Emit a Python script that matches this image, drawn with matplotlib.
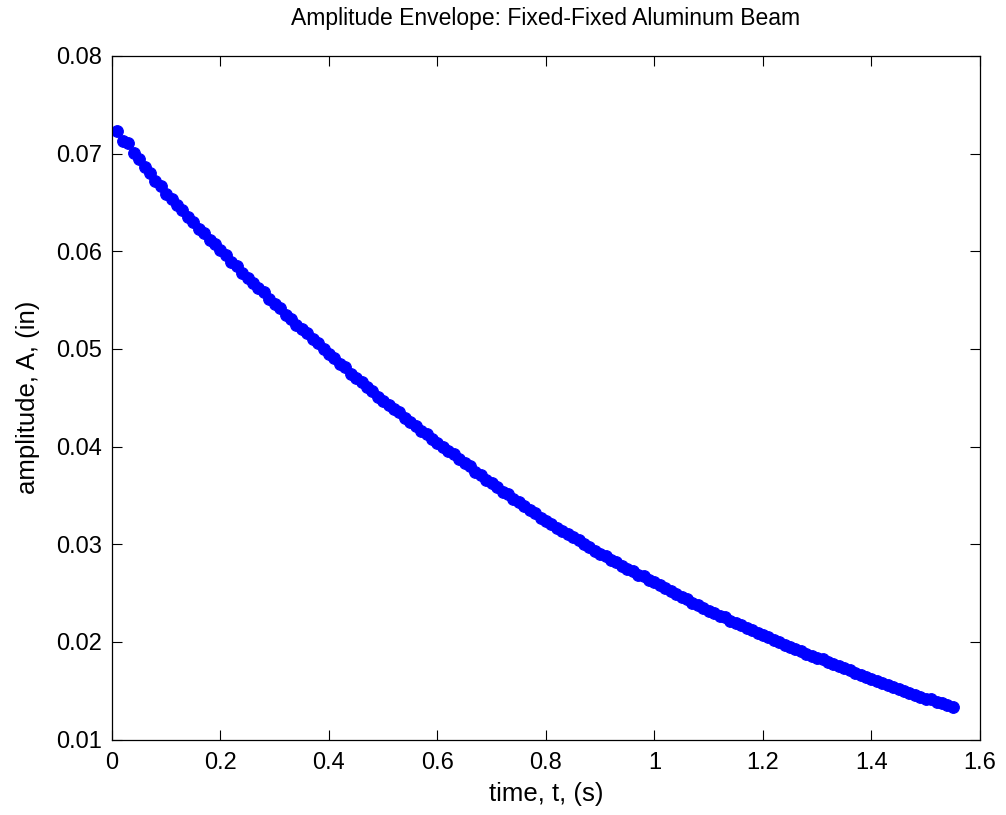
import matplotlib
matplotlib.use("Agg")
import matplotlib.pyplot as plt

# time of each envelope peak (s)
time_s = [
    0.01, 0.02, 0.03, 0.04, 0.05, 0.06, 0.07, 0.08, 0.09, 0.10,
    0.11, 0.12, 0.13, 0.14, 0.15, 0.16, 0.17, 0.18, 0.19, 0.20,
    0.21, 0.22, 0.23, 0.24, 0.25, 0.26, 0.27, 0.28, 0.29, 0.30,
    0.31, 0.32, 0.33, 0.34, 0.35, 0.36, 0.37, 0.38, 0.39, 0.40,
    0.41, 0.42, 0.43, 0.44, 0.45, 0.46, 0.47, 0.48, 0.49, 0.50,
    0.51, 0.52, 0.53, 0.54, 0.55, 0.56, 0.57, 0.58, 0.59, 0.60,
    0.61, 0.62, 0.63, 0.64, 0.65, 0.66, 0.67, 0.68, 0.69, 0.70,
    0.71, 0.72, 0.73, 0.74, 0.75, 0.76, 0.77, 0.78, 0.79, 0.80,
    0.81, 0.82, 0.83, 0.84, 0.85, 0.86, 0.87, 0.88, 0.89, 0.90,
    0.91, 0.92, 0.93, 0.94, 0.95, 0.96, 0.97, 0.98, 0.99, 1.00,
    1.01, 1.02, 1.03, 1.04, 1.05, 1.06, 1.07, 1.08, 1.09, 1.10,
    1.11, 1.12, 1.13, 1.14, 1.15, 1.16, 1.17, 1.18, 1.19, 1.20,
    1.21, 1.22, 1.23, 1.24, 1.25, 1.26, 1.27, 1.28, 1.29, 1.30,
    1.31, 1.32, 1.33, 1.34, 1.35, 1.36, 1.37, 1.38, 1.39, 1.40,
    1.41, 1.42, 1.43, 1.44, 1.45, 1.46, 1.47, 1.48, 1.49, 1.50,
    1.51, 1.52, 1.53, 1.54, 1.55,
]

# amplitude at each peak (in)
amplitude_in = [
    0.0723, 0.0713, 0.0711, 0.0701, 0.0694, 0.0686, 0.0680, 0.0672, 0.0667, 0.0659,
    0.0654, 0.0647, 0.0642, 0.0635, 0.0630, 0.0623, 0.0619, 0.0612, 0.0607, 0.0601,
    0.0596, 0.0589, 0.0585, 0.0578, 0.0573, 0.0568, 0.0562, 0.0558, 0.0551, 0.0546,
    0.0542, 0.0535, 0.0531, 0.0525, 0.0520, 0.0516, 0.0510, 0.0506, 0.0500, 0.0495,
    0.0491, 0.0485, 0.0481, 0.0474, 0.0470, 0.0466, 0.0461, 0.0457, 0.0451, 0.0447,
    0.0443, 0.0438, 0.0435, 0.0429, 0.0425, 0.0421, 0.0416, 0.0413, 0.0408, 0.0404,
    0.0400, 0.0395, 0.0392, 0.0387, 0.0383, 0.0380, 0.0374, 0.0371, 0.0366, 0.0363,
    0.0359, 0.0354, 0.0351, 0.0346, 0.0343, 0.0339, 0.0335, 0.0332, 0.0327, 0.0324,
    0.0321, 0.0317, 0.0314, 0.0310, 0.0307, 0.0304, 0.0300, 0.0297, 0.0293, 0.0290,
    0.0288, 0.0284, 0.0282, 0.0278, 0.0275, 0.0273, 0.0269, 0.0267, 0.0263, 0.0261,
    0.0258, 0.0255, 0.0252, 0.0249, 0.0246, 0.0244, 0.0240, 0.0238, 0.0235, 0.0232,
    0.0230, 0.0227, 0.0225, 0.0221, 0.0219, 0.0217, 0.0214, 0.0212, 0.0209, 0.0207,
    0.0205, 0.0202, 0.0200, 0.0197, 0.0195, 0.0193, 0.0191, 0.0188, 0.0186, 0.0184,
    0.0182, 0.0179, 0.0177, 0.0175, 0.0173, 0.0171, 0.0168, 0.0166, 0.0164, 0.0162,
    0.0160, 0.0158, 0.0156, 0.0154, 0.0152, 0.0150, 0.0148, 0.0146, 0.0144, 0.0142,
    0.0141, 0.0138, 0.0137, 0.0135, 0.0133,
]

x_ticks = [0, 0.2, 0.4, 0.6, 0.8, 1.0, 1.2, 1.4, 1.6]
x_labels = ["0", "0.2", "0.4", "0.6", "0.8", "1", "1.2", "1.4", "1.6"]
y_ticks = [0.01, 0.02, 0.03, 0.04, 0.05, 0.06, 0.07, 0.08]
y_labels = ["0.01", "0.02", "0.03", "0.04", "0.05", "0.06", "0.07", "0.08"]

plt.rcParams["font.family"] = ["Liberation Sans", "DejaVu Sans"]

fig = plt.figure(figsize=(10.06, 8.15), dpi=100)
ax = fig.add_axes([0.1113, 0.0926, 0.8628, 0.8387])

ax.plot(time_s, amplitude_in, linestyle="none", marker="o",
        markersize=8.4, markerfacecolor="#0000ff", markeredgecolor="#0000ff",
        markeredgewidth=0.8)

ax.set_xlim(0, 1.6)
ax.set_ylim(0.01, 0.08)
ax.set_xticks(x_ticks)
ax.set_xticklabels(x_labels)
ax.set_yticks(y_ticks)
ax.set_yticklabels(y_labels)

ax.tick_params(direction="in", length=7, width=0.8, top=True, right=True,
               labelsize=17, pad=7)
ax.tick_params(axis="x", pad=9)
for s in ax.spines.values():
    s.set_linewidth(0.9)

ax.set_title("Amplitude Envelope: Fixed-Fixed Aluminum Beam", fontsize=16.5, pad=22)
ax.set_xlabel("time, t, (s)", fontsize=18.5, labelpad=6)
ax.set_ylabel("amplitude, A, (in)", fontsize=18.5, labelpad=12)

fig.savefig("out.png", dpi=100)
